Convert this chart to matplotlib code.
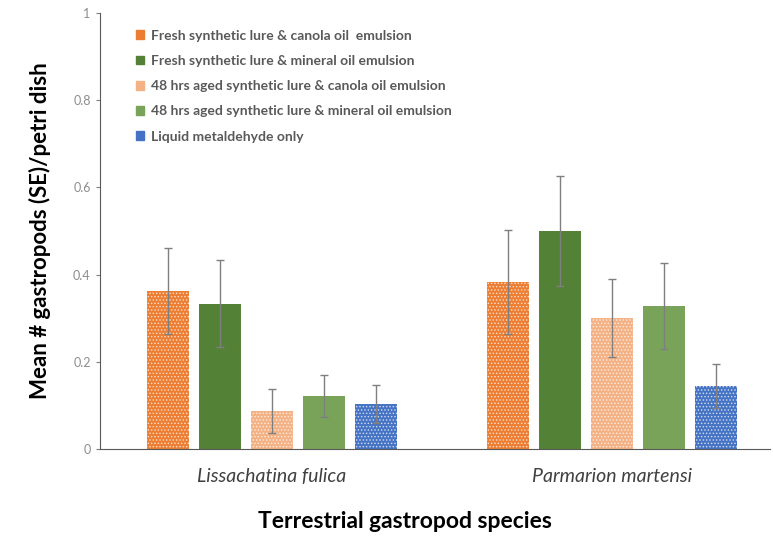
import matplotlib.pyplot as plt
import matplotlib.patches as mpatches
import numpy as np

plt.rcParams['font.family'] = ['Lato', 'DejaVu Sans']
plt.rcParams['hatch.linewidth'] = 0.7

species = ['Lissachatina fulica', 'Parmarion martensi']
treatments = ['Fresh synthetic lure & canola oil  emulsion',
              'Fresh synthetic lure & mineral oil emulsion',
              '48 hrs aged synthetic lure & canola oil emulsion',
              '48 hrs aged synthetic lure & mineral oil emulsion',
              'Liquid metaldehyde only']

# means and SE per treatment (fulica, martensi)
means = [[0.362, 0.383],
         [0.333, 0.500],
         [0.087, 0.300],
         [0.122, 0.328],
         [0.103, 0.144]]
se = [[0.099, 0.119],
      [0.100, 0.126],
      [0.051, 0.090],
      [0.048, 0.099],
      [0.044, 0.051]]

colors = ['#ED7D31', '#538135', '#F4B183', '#7AA35A', '#4472C4']
hatches = ['.....', None, '.....', None, '.....']

fig, ax = plt.subplots(figsize=(7.73, 5.37), dpi=100)
plt.subplots_adjust(left=0.129, right=0.996, bottom=0.164, top=0.976)

x = np.arange(len(species))
width = 0.1235
step = 0.153

for i, col in enumerate(colors):
    pos = x + (i - 2) * step
    ax.bar(pos, means[i], width, color=col, edgecolor='#ffffffaa' if hatches[i] else col,
           linewidth=0, hatch=hatches[i])
    ax.errorbar(pos, means[i], yerr=se[i], fmt='none', ecolor='#7f7f7f',
                elinewidth=1, capsize=3, capthick=1)

ax.set_xlim(-0.506, 1.465)
ax.set_ylim(0, 1)
ax.set_yticks(np.arange(0, 1.01, 0.2))
ax.set_yticklabels(['0', '0.2', '0.4', '0.6', '0.8', '1'])
ax.set_xticks(x)
ax.set_xticklabels(species, fontstyle='italic', fontsize=14, color='#404040')
ax.tick_params(axis='x', length=0, pad=14)
ax.tick_params(axis='y', length=3, color='#7f7f7f', labelcolor='#8c8c8c', labelsize=9)

for s in ['top', 'right']:
    ax.spines[s].set_visible(False)
ax.spines['left'].set_color('#595959')
ax.spines['bottom'].set_color('#595959')

ax.set_ylabel('Mean # gastropods (SE)/petri dish', fontsize=16, fontweight='bold', labelpad=16)
ax.set_xlabel('Terrestrial gastropod species', fontsize=16.5, fontweight='bold')
ax.xaxis.set_label_coords(0.455, -0.143)

handles = [mpatches.Patch(color=c) for c in colors]
leg = ax.legend(handles, treatments, loc='upper left', bbox_to_anchor=(0.035, 0.99),
                frameon=False, fontsize=10, handlelength=0.6, handleheight=0.6,
                handletextpad=0.5, labelspacing=0.95, labelcolor='#595959')
for t in leg.get_texts():
    t.set_fontweight('bold')

plt.savefig('out.png', dpi=100)
